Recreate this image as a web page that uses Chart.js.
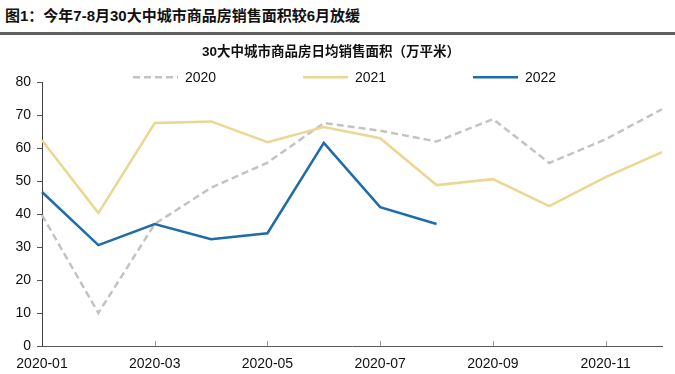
<!DOCTYPE html>
<html lang="zh">
<head>
<meta charset="UTF-8">
<title>30大中城市商品房日均销售面积</title>
<script src="https://cdn.jsdelivr.net/npm/chart.js"></script>
<style>
  body { margin: 0; background: #fff; width: 675px; height: 374px; overflow: hidden; }
  .head {
    height: 32px; border-bottom: 3px solid #5f5f5f;
    font: bold 15px "Liberation Sans", "Noto Sans CJK SC", sans-serif;
    line-height: 32px; padding-left: 5px; color: #111; box-sizing: content-box;
  }
  .box { position: relative; width: 675px; height: 339px; }
</style>
</head>
<body>
<div class="head">图1：今年7-8月30大中城市商品房销售面积较6月放缓</div>
<div class="box"><canvas id="areaChart"></canvas></div>
<script>
// 数据（万平米）
const months = ['2020-01', '2020-02', '2020-03', '2020-04', '2020-05', '2020-06',
                '2020-07', '2020-08', '2020-09', '2020-10', '2020-11', '2020-12'];
const seriesNames = ['2020', '2021', '2022'];
const y2020 = [39.7, 10, 37, 48, 55.6, 67.6, 65.3, 62, 68.8, 55.5, 62.7, 71.8];
const y2021 = [62.4, 40.3, 67.6, 68.1, 61.8, 66.4, 63, 48.8, 50.6, 42.4, 51.2, 58.8];
const y2022 = [46.7, 30.6, 37, 32.4, 34.2, 61.6, 42.1, 37];
const yTicks = [0, 10, 20, 30, 40, 50, 60, 70, 80];

const numFont = '"Liberation Sans", Arial, sans-serif';

// 图例：线段 + 文字，放在绘图区上方
const lineLegend = {
  id: 'lineLegend',
  afterDraw(chart) {
    const ctx = chart.ctx;
    const area = chart.chartArea;
    const y = area.top - 5;
    let x = area.left + 91;
    ctx.save();
    ctx.font = '14px ' + numFont;
    ctx.textBaseline = 'middle';
    chart.data.datasets.forEach(ds => {
      ctx.strokeStyle = ds.borderColor;
      ctx.lineWidth = ds.borderWidth;
      ctx.setLineDash(ds.borderDash || []);
      ctx.beginPath();
      ctx.moveTo(x, y);
      ctx.lineTo(x + 45, y);
      ctx.stroke();
      ctx.setLineDash([]);
      ctx.fillStyle = '#111';
      ctx.fillText(ds.label, x + 52, y + 1);
      x += 170;
    });
    ctx.restore();
  }
};

// x轴刻度线朝内
const innerTicks = {
  id: 'innerTicks',
  afterDraw(chart) {
    const ctx = chart.ctx;
    const xs = chart.scales.x;
    ctx.save();
    ctx.strokeStyle = '#9a9a9a';
    ctx.lineWidth = 1;
    months.forEach((m, i) => {
      if (i === 0 || i % 2) return;
      const px = Math.round(xs.getPixelForValue(i)) + 0.5;
      ctx.beginPath();
      ctx.moveTo(px, xs.top);
      ctx.lineTo(px, xs.top - 5);
      ctx.stroke();
    });
    ctx.restore();
  }
};

const ctx = document.getElementById('areaChart').getContext('2d');
new Chart(ctx, {
  type: 'line',
  data: {
    labels: months,
    datasets: [
      { label: seriesNames[0], data: y2020, borderColor: '#c3c3c3', borderWidth: 2.5,
        borderDash: [7, 4], pointRadius: 0, order: 3 },
      { label: seriesNames[1], data: y2021, borderColor: '#ebd792', borderWidth: 2.5,
        pointRadius: 0, order: 2 },
      { label: seriesNames[2], data: y2022, borderColor: '#1f6cab', borderWidth: 2.5,
        pointRadius: 0, order: 1 }
    ]
  },
  options: {
    responsive: true,
    maintainAspectRatio: false,
    animation: false,
    layout: { padding: { left: 0, right: 13, top: 0, bottom: 0 } },
    plugins: {
      legend: { display: false },
      tooltip: { enabled: false },
      title: {
        display: true,
        text: '30大中城市商品房日均销售面积（万平米）',
        color: '#111',
        font: { family: '"Liberation Sans", "Noto Sans CJK SC", sans-serif', size: 13.5, weight: 'bold' },
        padding: { top: 9, bottom: 22 }
      }
    },
    scales: {
      x: {
        offset: false,
        afterFit: s => { s.height = 28; },
        border: { display: true, color: '#595959', width: 1 },
        grid: { display: true, drawOnChartArea: false, drawTicks: false },
        ticks: {
          autoSkip: false, maxRotation: 0, padding: 10, color: '#111',
          font: { family: numFont, size: 14 },
          callback: (v, i) => (i % 2 === 0 ? months[i] : '')
        }
      },
      y: {
        min: 0, max: 80,
        afterBuildTicks: s => { s.ticks = yTicks.map(v => ({ value: v })); },
        afterFit: s => { s.width = 42; },
        border: { display: true, color: '#404040', width: 1 },
        grid: { display: true, drawOnChartArea: false, drawTicks: true, tickLength: 5, color: '#595959' },
        ticks: { padding: 6, color: '#111', font: { family: numFont, size: 14 } }
      }
    }
  },
  plugins: [lineLegend, innerTicks]
});
</script>
</body>
</html>
